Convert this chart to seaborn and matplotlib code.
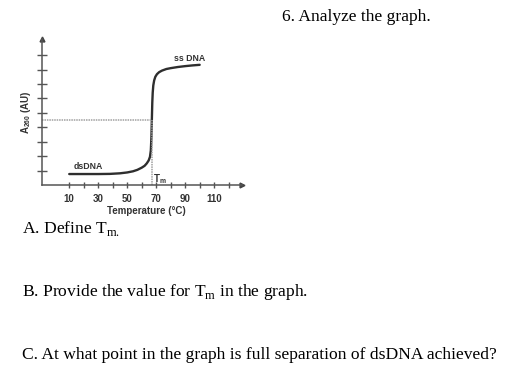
import matplotlib
matplotlib.use("Agg")
import matplotlib.pyplot as plt
import seaborn as sns
import pandas as pd

# ---- data ----
temperature = [10, 20, 30, 38, 45, 50, 54, 57, 60, 62, 63.5, 64.8, 65.7, 66.3, 66.7,
               67.0, 67.3, 67.6, 68.0, 68.6, 69.4, 70.5, 72, 74, 77, 80, 85, 90, 95, 100]
absorbance = [0.76, 0.76, 0.76, 0.77, 0.81, 0.87, 0.95, 1.05, 1.2, 1.33, 1.5, 1.7, 1.95, 2.4, 3.3,
              4.5, 5.7, 6.4, 6.9, 7.25, 7.5, 7.68, 7.82, 7.93, 8.04, 8.1, 8.18, 8.24, 8.29, 8.33]
tm_value = 67.0
half_absorbance = 4.5
x_ticks = [10, 20, 30, 40, 50, 60, 70, 80, 90, 100, 110, 120]
x_tick_labels = ["10", "", "30", "", "50", "", "70", "", "90", "", "110", ""]
y_ticks = [1, 2, 3, 4, 5, 6, 7, 8, 9]
x_limits = (-9, 129)
y_limits = (0, 10.1)

title_text = "6. Analyze the graph."
question_a = r"A. Define T$_{\mathrm{m.}}$"
question_b = r"B. Provide the value for T$_{\mathrm{m}}$ in the graph."
question_c = "C. At what point in the graph is full separation of dsDNA achieved?"

W, H = 524, 389

sns.set_theme(style="white")
plt.rcParams["font.family"] = ["Liberation Sans", "DejaVu Sans"]
plt.rcParams["mathtext.fontset"] = "custom"
plt.rcParams["mathtext.rm"] = "Liberation Serif"
plt.rcParams["mathtext.sf"] = "Liberation Sans:bold"

fig = plt.figure(figsize=(W / 100, H / 100), dpi=100)
fig.patch.set_facecolor("white")

left_px, right_px, top_px, bottom_px = 41.7, 241.7, 39.3, 185.0
ax = fig.add_axes([left_px / W, 1 - bottom_px / H, (right_px - left_px) / W, (bottom_px - top_px) / H])
ax.set_facecolor("none")

df = pd.DataFrame({"Temperature": temperature, "A260": absorbance})
sns.lineplot(data=df, x="Temperature", y="A260", ax=ax, color="#2e2e2e", linewidth=1.7)

ax.set_xlim(*x_limits)
ax.set_ylim(*y_limits)

# dotted guide lines
ax.hlines(half_absorbance, x_limits[0], tm_value, colors="#a0a0a0", linestyles=(0, (1, 0.6)), linewidth=1.1)
ax.vlines(tm_value, 0, half_absorbance, colors="#a0a0a0", linestyles=(0, (1, 0.6)), linewidth=1.1)

for s in ["top", "right"]:
    ax.spines[s].set_visible(False)
for s in ["left", "bottom"]:
    ax.spines[s].set_color("#555555")
    ax.spines[s].set_linewidth(1.1)

# arrow heads
ax.plot(1, 0, marker=">", color="#444444", markersize=3.5, transform=ax.transAxes, clip_on=False)
ax.plot(0, 1, marker="^", color="#444444", markersize=3.5, transform=ax.transAxes, clip_on=False)

ax.set_xticks(x_ticks)
ax.set_xticklabels(x_tick_labels)
ax.set_yticks(y_ticks)
ax.set_yticklabels([])
ax.tick_params(axis="x", direction="inout", length=5, width=1, color="#555555", pad=4,
               labelsize=7, labelcolor="#333333", bottom=True)
ax.tick_params(axis="y", direction="inout", length=7, width=1, color="#555555", left=True)
for lbl in ax.get_xticklabels():
    lbl.set_fontweight("bold")

ax.set_xlabel("Temperature (°C)", fontsize=7, fontweight="bold", color="#333333")
ax.xaxis.set_label_coords(0.525, -0.145)
ax.set_ylabel(r"A$_{\mathsf{260}}$ (AU)", fontsize=7, fontweight="bold", color="#333333")
ax.yaxis.set_label_coords(-0.045, 0.5)

ax.text(93.2, 8.8, "ss DNA", fontsize=6.3, fontweight="bold", color="#333333", ha="center", va="center")
ax.text(23.1, 1.27, "dsDNA", fontsize=6.3, fontweight="bold", color="#333333", ha="center", va="center")
ax.text(67.6, 0.42, r"T$_{\mathsf{m}}$", fontsize=7, fontweight="bold", color="#333333", ha="left", va="center")

serif = ["Liberation Serif", "DejaVu Serif"]
fs = 12.6
fig.text(281.7 / W, 1 - 20.7 / H, title_text, fontsize=fs, family=serif, color="black", va="baseline")
fig.text(21.7 / W, 1 - 233.3 / H, question_a, fontsize=fs, family=serif, color="black", va="baseline")
fig.text(21.7 / W, 1 - 296.0 / H, question_b, fontsize=fs, family=serif, color="black", va="baseline")
fig.text(21.7 / W, 1 - 359.3 / H, question_c, fontsize=fs, family=serif, color="black", va="baseline")

fig.savefig("out.png", dpi=100, facecolor="white")
